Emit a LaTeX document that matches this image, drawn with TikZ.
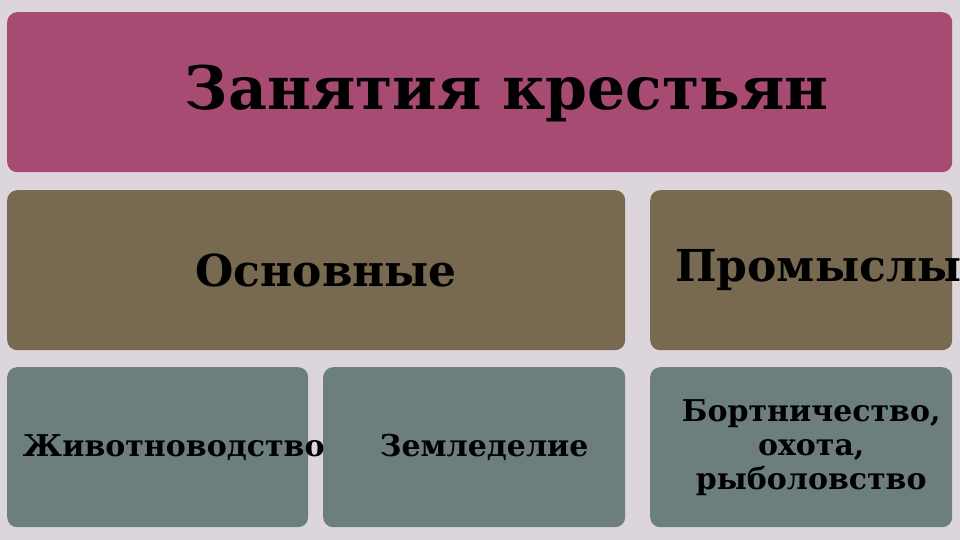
\documentclass[tikz,border=0pt]{standalone}
\usepackage{fontspec}
\setmainfont{DejaVu Serif}
\usepackage{tikz}
\usetikzlibrary{positioning,calc}

\definecolor{bgpaper}{HTML}{DCD5DC}
\definecolor{titlerose}{HTML}{A84B72}
\definecolor{mainolive}{HTML}{776A50}
\definecolor{leafslate}{HTML}{6D7E7F}

\tikzset{
    card/.style={rounded corners=10pt, inner sep=0pt, anchor=north west, font=\bfseries},
    titlecard/.style={card, fill=titlerose, minimum width=945pt, minimum height=160pt},
    groupcard/.style={card, fill=mainolive, minimum height=160pt},
    leafcard/.style={card, fill=leafslate, minimum width=302pt, minimum height=160pt},
    bigtext/.style={font=\bfseries\fontsize{44}{44}\selectfont},
    smalltext/.style={font=\bfseries\fontsize{30}{34}\selectfont, align=center}
}

\begin{document}
\begin{tikzpicture}[x=1pt,y=-1pt]
\fill[bgpaper] (0,0) rectangle (960,540);
\useasboundingbox (0,0) rectangle (960,540);
% boxes
\node[titlecard] (title) at (7,12) {};
\node[groupcard, minimum width=618pt] (main) at (7,190) {};
\node[groupcard, minimum width=302pt] (craft) at (650,190) {};
\node[leafcard, minimum width=301pt] (cattle) at (7,367) {};
\node[leafcard] (farm) at (323,367) {};
\node[leafcard] (hunt) at (650,367) {};
% labels
\node[font=\bfseries\fontsize{60}{60}\selectfont] at ($(title.center)+(27,1)$) {Занятия крестьян};
\node[bigtext] at ($(main.center)+(10,0)$) {Основные};
\node[bigtext] at ($(craft.center)+(17,0)$) {Промыслы};
\node[smalltext] at ($(cattle.center)+(16,0)$) {Животноводство};
\node[smalltext] at ($(farm.center)+(10,0)$) {Земледелие};
\node[smalltext] at ($(hunt.center)+(10,0)$) {Бортничество,\\охота,\\рыболовство};
\end{tikzpicture}
\end{document}
